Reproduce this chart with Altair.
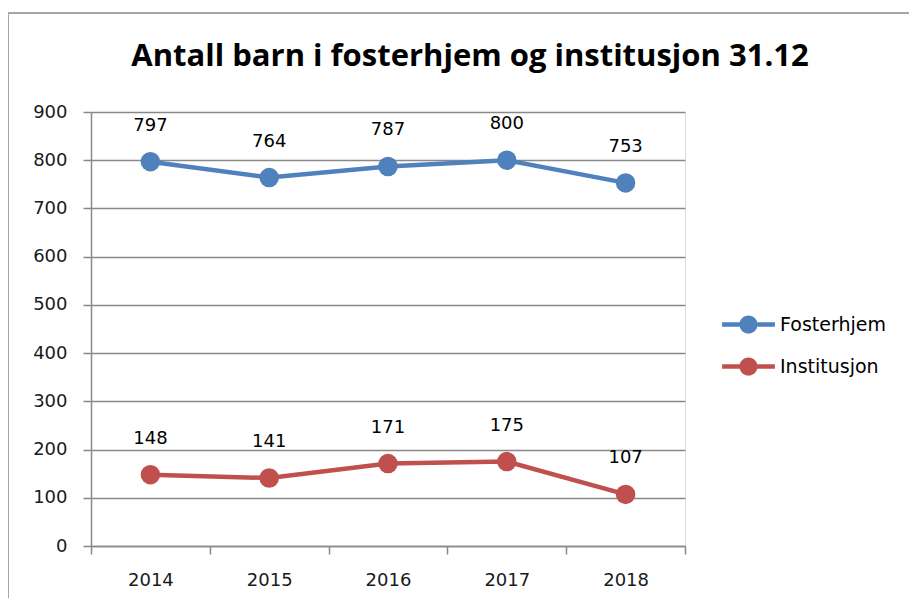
import altair as alt
import pandas as pd

years = ["2014", "2015", "2016", "2017", "2018"]
fosterhjem = [797, 764, 787, 800, 753]
institusjon = [148, 141, 171, 175, 107]
series_names = ["Fosterhjem", "Institusjon"]
series_colors = ["#4F81BD", "#C0504D"]
y_ticks = [0, 100, 200, 300, 400, 500, 600, 700, 800, 900]

rows = []
for name, vals in zip(series_names, [fosterhjem, institusjon]):
    for yr, v in zip(years, vals):
        rows.append({"År": yr, "Antall": v, "Serie": name})
df = pd.DataFrame(rows)

PW, PH = 594, 434
FONT = "DejaVu Sans"

color = alt.Color(
    "Serie:N",
    scale=alt.Scale(domain=series_names, range=series_colors),
    legend=alt.Legend(
        title=None,
        orient="none",
        legendX=641,
        legendY=196,
        padding=0,
        symbolType="M-1.6,-0.13 H1.6 V0.13 H-1.6 Z M0.55,0 A0.55,0.55 0 1 1 -0.55,0 A0.55,0.55 0 1 1 0.55,0 Z",
        symbolSize=1089,
        symbolStrokeWidth=0,
        labelOffset=15,
        rowPadding=15,
        labelFont=FONT,
        labelFontSize=19,
        labelColor="#000000",
    ),
)

x = alt.X(
    "År:N",
    sort=years,
    scale=alt.Scale(paddingInner=0, paddingOuter=0),
    axis=alt.Axis(
        title=None,
        labelAngle=0,
        labelFont=FONT,
        labelFontSize=18,
        labelColor="#1a1a1a",
        labelPadding=17,
        tickBand="extent",
        tickSize=8,
        tickColor="#898989",
        domainColor="#898989",
        tickWidth=1.5,
        domainWidth=1.5,
        grid=False,
    ),
)
y = alt.Y(
    "Antall:Q",
    scale=alt.Scale(domain=[0, 900], nice=False),
    axis=alt.Axis(
        title=None,
        values=y_ticks,
        labelFont=FONT,
        labelFontSize=18,
        labelColor="#1a1a1a",
        labelPadding=16,
        tickSize=8,
        tickColor="#898989",
        domainColor="#898989",
        gridColor="#898989",
        tickWidth=1.5,
        domainWidth=1.5,
        gridWidth=1.5,
        grid=True,
    ),
)

base = alt.Chart(df).encode(x=x, y=y, color=color)
lines = base.mark_line(strokeWidth=4.5)
points = base.mark_point(filled=True, size=380, opacity=1)
labels = base.mark_text(dy=-36, font=FONT, fontSize=18, color="#000000").encode(
    text="Antall:Q", color=alt.value("#000000")
)

border_df = pd.DataFrame({"k": [0]})
left_border = alt.Chart(border_df).mark_rule(color="#A6A6A6", strokeWidth=2).encode(
    x=alt.value(-83), y=alt.value(-99), y2=alt.value(PH + 60)
)
top_border = alt.Chart(border_df).mark_rule(color="#A6A6A6", strokeWidth=2).encode(
    x=alt.value(-83), x2=alt.value(PW + 240), y=alt.value(-99)
)

chart = (
    alt.layer(left_border, top_border, lines, points, labels)
    .properties(
        width=PW,
        height=PH,
        autosize=alt.AutoSizeParams(type="none"),
        padding={"left": 83, "top": 104, "right": 224, "bottom": 52},
        title=alt.Title(
            "Antall barn i fosterhjem og institusjon 31.12",
            font="Open Sans",
            fontSize=31,
            fontWeight="bold",
            color="#000000",
            anchor="middle",
            dx=82,
            dy=92,
            offset=0,
            baseline="bottom",
        ),
    )
    .configure_view(stroke=None)
    .configure(background="#ffffff")
)

chart.save("out.html", embed_options={"renderer": "svg", "actions": False})
